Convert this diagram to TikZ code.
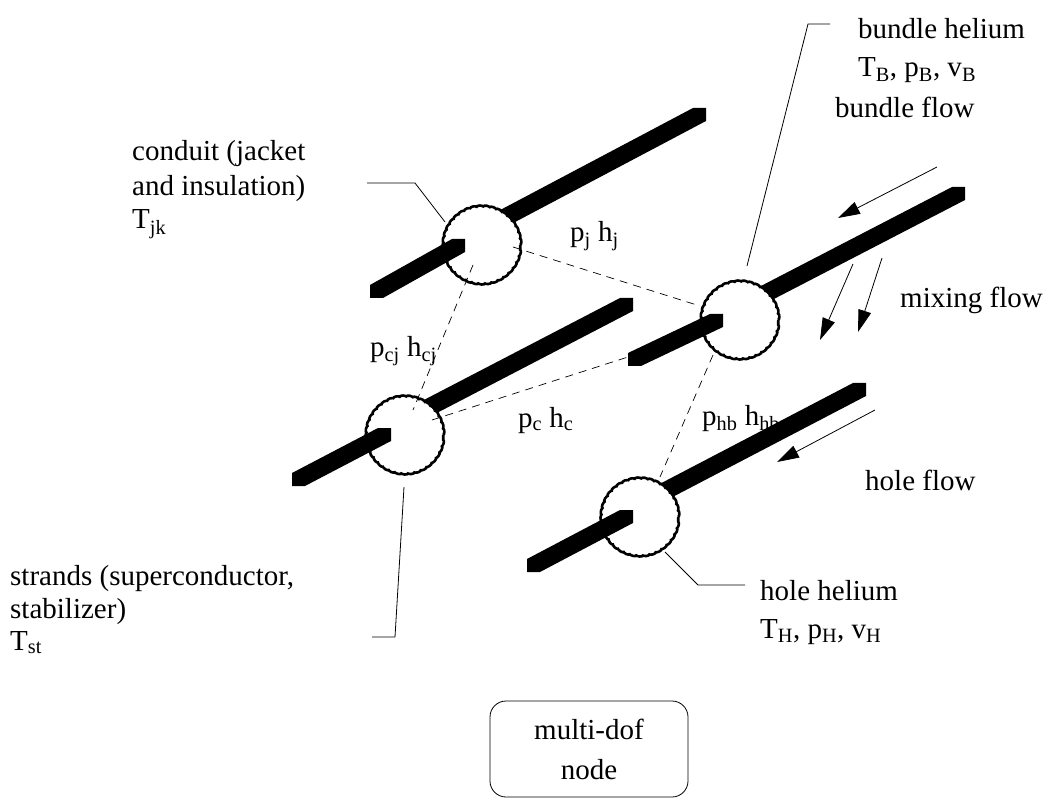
\documentclass[tikz,border=0pt]{standalone}
\usepackage{fontspec}
\setmainfont{Liberation Serif}
\usetikzlibrary{decorations.pathmorphing,arrows.meta}
\newcommand{\rodbar}[4]{%
  \fill (#1,#2) -- (#3,#4) -- ({#3+13},#4) -- ({#3+13},{#4+13}) -- ({#1+13},{#2+13}) -- (#1,{#2+13}) -- cycle;}
\begin{document}
\begin{tikzpicture}[x=1pt,y=-1pt,
  lbl/.style={anchor=base west, inner sep=0pt, font=\fontsize{29}{36}\selectfont},
  leader/.style={line width=0.8pt},
  link/.style={dashed, line width=0.7pt, dash pattern=on 8pt off 6pt},
  flow/.style={line width=0.8pt, -{Triangle[length=22pt,width=13pt]}},
  circ/.style={line width=2.6pt, decorate, decoration={bumps, mirror, segment length=13pt, amplitude=1.4pt}},
  dof/.style={draw, line width=0.8pt, rounded corners=16pt, minimum width=198pt, minimum height=96pt, align=center, font=\fontsize{29}{40}\selectfont}]
\useasboundingbox (0,0) rectangle (1050,802);
% circle centres
\coordinate (c1) at (482,245);
\coordinate (c2) at (405,435);
\coordinate (c3) at (740,320);
\coordinate (c4) at (640,517);
% labels
\node[lbl] (t1a) at (132,161) {conduit (jacket};
\node[lbl] (t1b) at (132,196) {and insulation)};
\node[lbl] (t1c) at (132,229) {T\textsubscript{jk}};
\node[lbl] (t2a) at (858,39) {bundle helium};
\node[lbl] (t2b) at (858,77) {T\textsubscript{B}, p\textsubscript{B}, v\textsubscript{B}};
\node[lbl] (bf) at (835,118) {bundle flow};
\node[lbl] (mf) at (900,308) {mixing flow};
\node[lbl] (hf) at (865,490) {hole flow};
\node[lbl] (pj) at (570,242) {p\textsubscript{j} h\textsubscript{j}};
\node[lbl] (pcj) at (370,357) {p\textsubscript{cj} h\textsubscript{cj}};
\node[lbl] (pc) at (518,427) {p\textsubscript{c} h\textsubscript{c}};
\node[lbl] (phb) at (702,425) {p\textsubscript{hb} h\textsubscript{hb}};
\node[lbl] (t3a) at (10,585) {strands (superconductor,};
\node[lbl] (t3b) at (10,618) {stabilizer)};
\node[lbl] (t3c) at (10,650) {T\textsubscript{st}};
\node[lbl] (t4a) at (760,600) {hole helium};
\node[lbl] (t4b) at (760,638) {T\textsubscript{H}, p\textsubscript{H}, v\textsubscript{H}};
\node[dof] (box) at (589,749) {multi-dof\\node};
% upper rod segments
\rodbar{470}{226}{693}{108}
\rodbar{395}{415}{620}{298}
\rodbar{730}{302}{952}{187}
\rodbar{650}{489}{853}{383}
% circles
\foreach \c in {c1,c2,c3,c4}{
  \fill[white] (\c) circle[radius=38pt];
  \draw[circ] (\c) circle[radius=38pt];
}
% dashed links
\coordinate (j1) at (513,247); \coordinate (j3) at (700,306);
\coordinate (cj1) at (473,265); \coordinate (cj2) at (413,410);
\coordinate (cc2) at (432,420); \coordinate (cc3) at (712,330);
\coordinate (hb3) at (713,355); \coordinate (hb4) at (660,477);
\draw[link] (j1) -- (j3);
\draw[link] (cj1) -- (cj2);
\draw[link] (cc2) -- (cc3);
\draw[link] (hb3) -- (hb4);
% lower rod segments
\rodbar{370}{285}{452}{239}
\rodbar{292}{473}{378}{428}
\rodbar{628}{353}{710}{314}
\rodbar{527}{559}{620}{510}
% leaders
\coordinate (l1a) at (367,183); \coordinate (l1b) at (415,183); \coordinate (l1c) at (445,222);
\draw[leader] (l1a) -- (l1b) -- (l1c);
\coordinate (l2a) at (830,24); \coordinate (l2b) at (808,24); \coordinate (l2c) at (747,266);
\draw[leader] (l2a) -- (l2b) -- (l2c);
\coordinate (l3a) at (404,487); \coordinate (l3b) at (395,637); \coordinate (l3c) at (372,637);
\draw[leader] (l3a) -- (l3b) -- (l3c);
\coordinate (l4a) at (665,552); \coordinate (l4b) at (698,585); \coordinate (l4c) at (745,585);
\draw[leader] (l4a) -- (l4b) -- (l4c);
% flow arrows
\coordinate (bfa) at (937,167); \coordinate (bfb) at (838,218);
\draw[flow] (bfa) -- (bfb);
\coordinate (m1a) at (882,258); \coordinate (m1b) at (858,332);
\draw[flow] (m1a) -- (m1b);
\coordinate (m2a) at (853,264); \coordinate (m2b) at (820,340);
\draw[flow] (m2a) -- (m2b);
\coordinate (hfa) at (875,410); \coordinate (hfb) at (777,462);
\draw[flow] (hfa) -- (hfb);
\end{tikzpicture}
\end{document}
